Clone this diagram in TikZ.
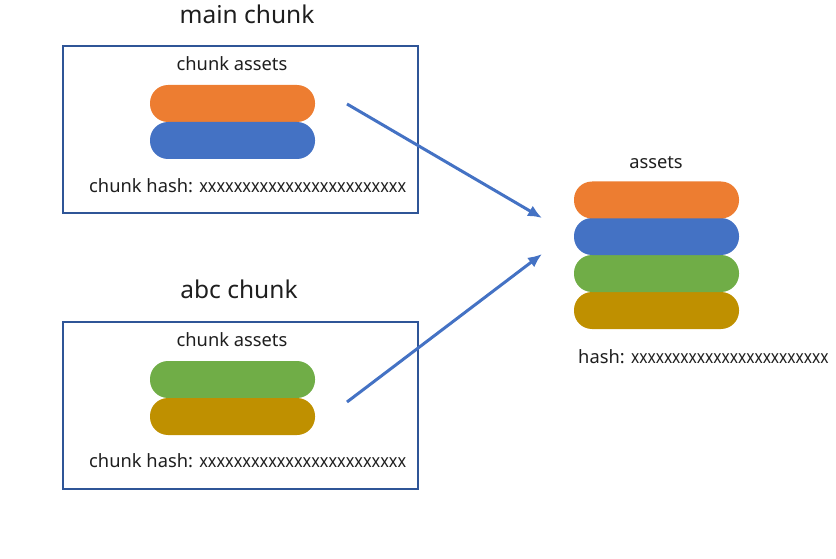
\documentclass[tikz,border=0pt]{standalone}
\usepackage{fontspec}
\setmainfont{Noto Sans}
\usetikzlibrary{arrows.meta}
\definecolor{boxc}{HTML}{2F5597}
\definecolor{aorange}{HTML}{ED7D31}
\definecolor{ablue}{HTML}{4472C4}
\definecolor{agreen}{HTML}{70AD47}
\definecolor{agold}{HTML}{BF9000}
\definecolor{txt}{HTML}{1E1E1E}
\newcommand{\xs}[1]{\scalebox{#1}[1]{xxxxxxxxxxxxxxxxxxxxxxxx}}
\begin{document}
\begin{tikzpicture}[x=1pt,y=-1pt,
  chunkbox/.style={draw=boxc,line width=2.2pt,minimum width=355pt,minimum height=167pt,inner sep=0pt},
  pill/.style={rectangle,rounded corners=18pt,minimum width=165pt,minimum height=37pt,inner sep=0pt,draw=none},
  title/.style={font=\fontsize{24.5}{28}\selectfont,text=txt,inner sep=0pt},
  label/.style={font=\fontsize{18.3}{21}\selectfont,text=txt,inner sep=0pt},
  conn/.style={draw=ablue,line width=3pt,-{Latex[length=14pt,width=12pt]}}
]
\useasboundingbox (0,0) rectangle (836,559);
% main chunk
\node[title] (t1) at (247,14) {main chunk};
\node[chunkbox] (b1) at (240.5,129.5) {};
\node[label] (ca1) at (232,64) {chunk assets};
\node[pill,fill=aorange] (p1) at (232.5,103.5) {};
\node[pill,fill=ablue] (p2) at (232.5,140.5) {};
\node[label,anchor=west] (h1) at (89,186) {chunk hash: \xs{0.89}};
% abc chunk
\node[title] (t2) at (239,289) {abc chunk};
\node[chunkbox] (b2) at (240.5,405.5) {};
\node[label] (ca2) at (232,340) {chunk assets};
\node[pill,fill=agreen] (p3) at (232.5,379.5) {};
\node[pill,fill=agold] (p4) at (232.5,416.5) {};
\node[label,anchor=west] (h2) at (89,461) {chunk hash: \xs{0.89}};
% assets
\node[label] (as) at (656,163) {assets};
\node[pill,fill=agold] (q4) at (656.5,310.5) {};
\node[pill,fill=agreen] (q3) at (656.5,273.5) {};
\node[pill,fill=ablue] (q2) at (656.5,236.5) {};
\node[pill,fill=aorange] (q1) at (656.5,200) {};
\node[label,anchor=west] (h3) at (578,357) {hash: \xs{0.85}};
% connectors
\coordinate (s1) at (347,104);
\coordinate (e1) at (542,218);
\coordinate (s2) at (347,402);
\coordinate (e2) at (542,254);
\draw[conn] (s1) -- (e1);
\draw[conn] (s2) -- (e2);
\end{tikzpicture}
\end{document}
